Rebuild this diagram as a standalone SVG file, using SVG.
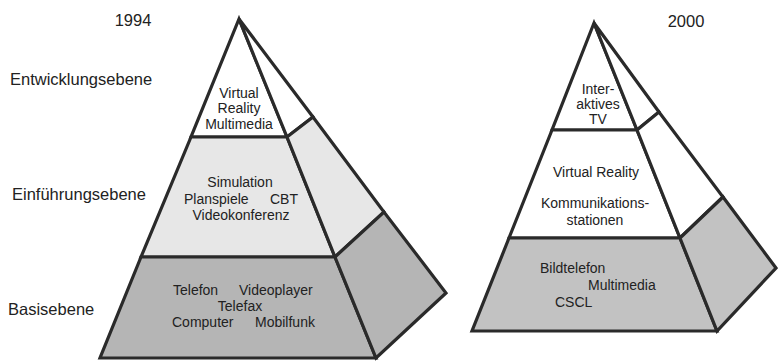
<svg xmlns="http://www.w3.org/2000/svg" width="778" height="362" viewBox="0 0 778 362">
<style>
.f{stroke:#2a2a2a;stroke-width:3.2;stroke-linejoin:miter;stroke-miterlimit:6}
.w{fill:#ffffff}
.l{fill:#e7e7e7}
.d{fill:#b5b5b5}
.d2{fill:#c2c2c2}
text{font-family:"Liberation Sans",Arial,sans-serif;fill:#222}
.o{font-size:16.5px}
.i{font-size:14px}
.c{text-anchor:middle}
</style>
<rect width="778" height="362" fill="#ffffff"/>
<g id="labels">
<text class="o c" x="133" y="26">1994</text>
<text class="o c" x="686" y="27">2000</text>
<text class="o" x="10" y="85">Entwicklungsebene</text>
<text class="o" x="12" y="200">Einführungsebene</text>
<text class="o" x="8" y="315">Basisebene</text>
</g>
<g id="pyramid1994">
<g id="p1-top">
<polygon class="f w" points="239,19 287,137 191,137"/>
<polygon class="f w" points="239,19 313,117 287,137"/>
<text class="i c" x="239" y="98">Virtual</text>
<text class="i c" x="239" y="113">Reality</text>
<text class="i c" x="239" y="129">Multimedia</text>
</g>
<g id="p1-mid">
<polygon class="f l" points="191,137 287,137 335,257 141,257"/>
<polygon class="f l" points="287,137 313,117 384,212 335,257"/>
<text class="i c" x="240" y="187">Simulation</text>
<text class="i" x="184" y="204">Planspiele</text>
<text class="i" x="270" y="204">CBT</text>
<text class="i c" x="241" y="220">Videokonferenz</text>
</g>
<g id="p1-base">
<polygon class="f d" points="141,257 335,257 376,358 100,358"/>
<polygon class="f d" points="335,257 384,212 446,293 376,358"/>
<text class="i" x="173" y="295">Telefon</text>
<text class="i" x="239" y="295">Videoplayer</text>
<text class="i c" x="240" y="311">Telefax</text>
<text class="i" x="172" y="327">Computer</text>
<text class="i" x="255" y="327">Mobilfunk</text>
</g>
</g>
<g id="pyramid2000">
<g id="p2-top">
<polygon class="f w" points="594,23 637,130 552,130"/>
<polygon class="f w" points="594,23 659,112 637,130"/>
<text class="i c" x="598" y="94">Inter-</text>
<text class="i c" x="598" y="109">aktives</text>
<text class="i c" x="598" y="124">TV</text>
</g>
<g id="p2-mid">
<polygon class="f w" points="552,130 637,130 680,238 509,238"/>
<polygon class="f w" points="637,130 659,112 723,197 680,238"/>
<text class="i c" x="596" y="177">Virtual Reality</text>
<text class="i c" x="595" y="208">Kommunikations-</text>
<text class="i c" x="595" y="225">stationen</text>
</g>
<g id="p2-base">
<polygon class="f d2" points="509,238 680,238 717,331 472,331"/>
<polygon class="f d2" points="680,238 723,197 776,268 717,331"/>
<text class="i" x="540" y="273">Bildtelefon</text>
<text class="i" x="588" y="290">Multimedia</text>
<text class="i" x="555" y="307">CSCL</text>
</g>
</g>
</svg>
